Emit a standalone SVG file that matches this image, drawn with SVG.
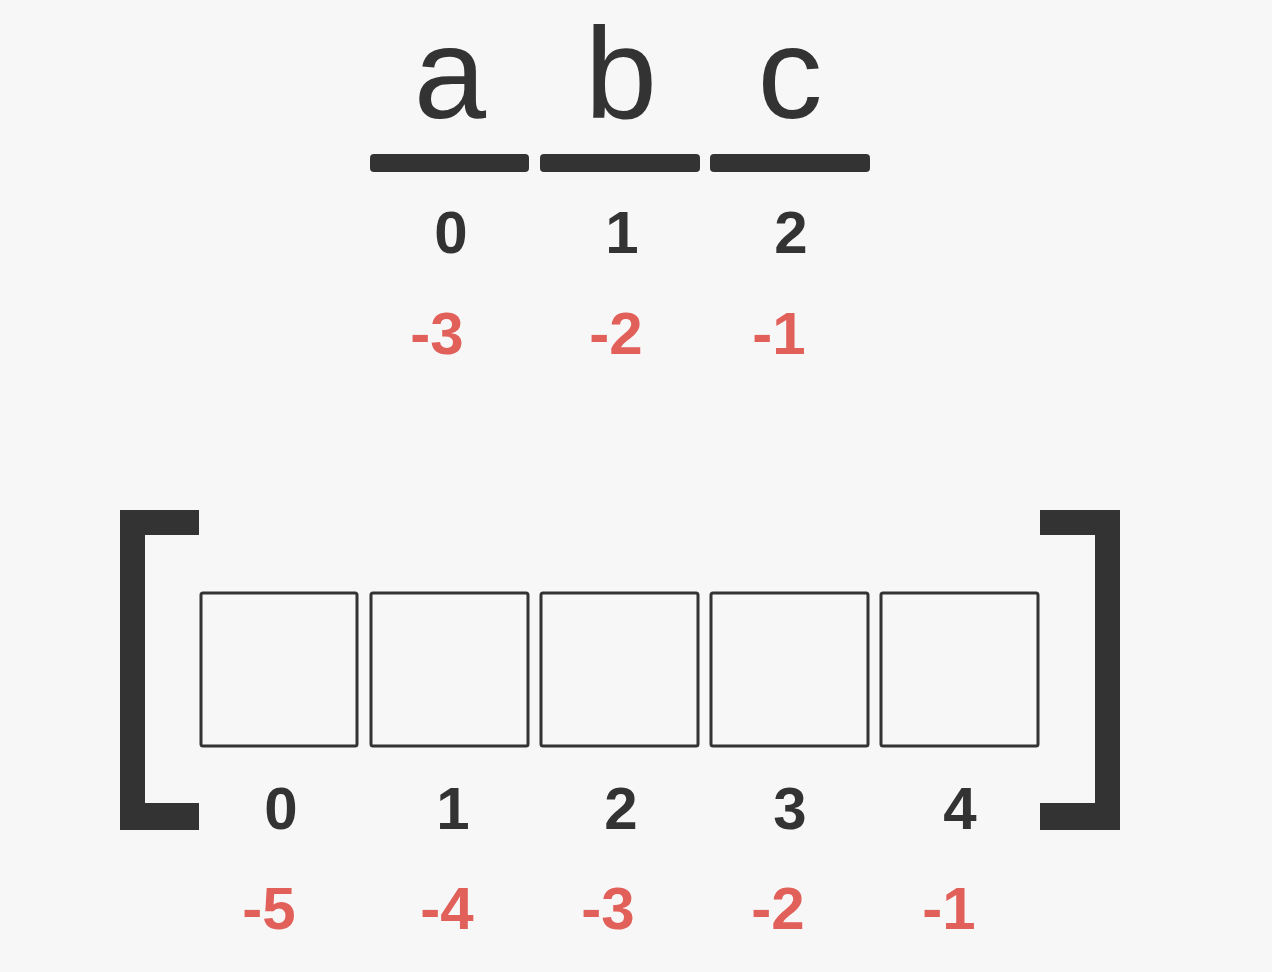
<svg xmlns="http://www.w3.org/2000/svg" width="1272" height="972" viewBox="0 0 1272 972">
<style>
.bg{fill:#f7f7f7}
.ink{fill:#333333}
.box{fill:none;stroke:#333333;stroke-width:3;stroke-linejoin:round}
.big{font-family:"Liberation Sans",Arial,sans-serif;font-size:130px;fill:#333333;text-anchor:middle}
.num{font-family:"Liberation Sans",Arial,sans-serif;font-size:60px;font-weight:bold;fill:#333333;text-anchor:middle}
.neg{font-family:"Liberation Sans",Arial,sans-serif;font-size:60px;font-weight:bold;fill:#e2605a;text-anchor:middle}
</style>
<rect class="bg" x="0" y="0" width="1272" height="972"/>
<g id="string">
  <text class="big" x="450" y="118">a</text>
  <text class="big" x="621" y="118">b</text>
  <text class="big" x="790" y="118">c</text>
  <rect class="ink" x="370" y="154" width="159" height="18" rx="4"/>
  <rect class="ink" x="540" y="154" width="160" height="18" rx="4"/>
  <rect class="ink" x="710" y="154" width="160" height="18" rx="4"/>
  <text class="num" x="451" y="253">0</text>
  <text class="num" x="622" y="253">1</text>
  <text class="num" x="791" y="253">2</text>
  <text class="neg" x="437" y="354">-3</text>
  <text class="neg" x="616" y="354">-2</text>
  <text class="neg" x="779" y="354">-1</text>
</g>
<g id="list">
  <path id="left-bracket" class="ink" d="M120 510 H199 V535 H145 V803 H199 V830 H120 Z"/>
  <path id="right-bracket" class="ink" d="M1040 510 H1120 V830 H1040 V803 H1095 V535 H1040 Z"/>
  <rect id="cell0" class="box" x="201" y="593" width="156" height="153" rx="2"/>
  <rect id="cell1" class="box" x="371" y="593" width="157" height="153" rx="2"/>
  <rect id="cell2" class="box" x="541" y="593" width="157" height="153" rx="2"/>
  <rect id="cell3" class="box" x="711" y="593" width="157" height="153" rx="2"/>
  <rect id="cell4" class="box" x="881" y="593" width="157" height="153" rx="2"/>
  <text class="num" x="281" y="829">0</text>
  <text class="num" x="453" y="829">1</text>
  <text class="num" x="621" y="829">2</text>
  <text class="num" x="790" y="829">3</text>
  <text class="num" x="960" y="829">4</text>
  <text class="neg" x="269" y="929">-5</text>
  <text class="neg" x="447" y="929">-4</text>
  <text class="neg" x="608" y="929">-3</text>
  <text class="neg" x="778" y="929">-2</text>
  <text class="neg" x="949" y="929">-1</text>
</g>
<g id="connectors"/>
</svg>
